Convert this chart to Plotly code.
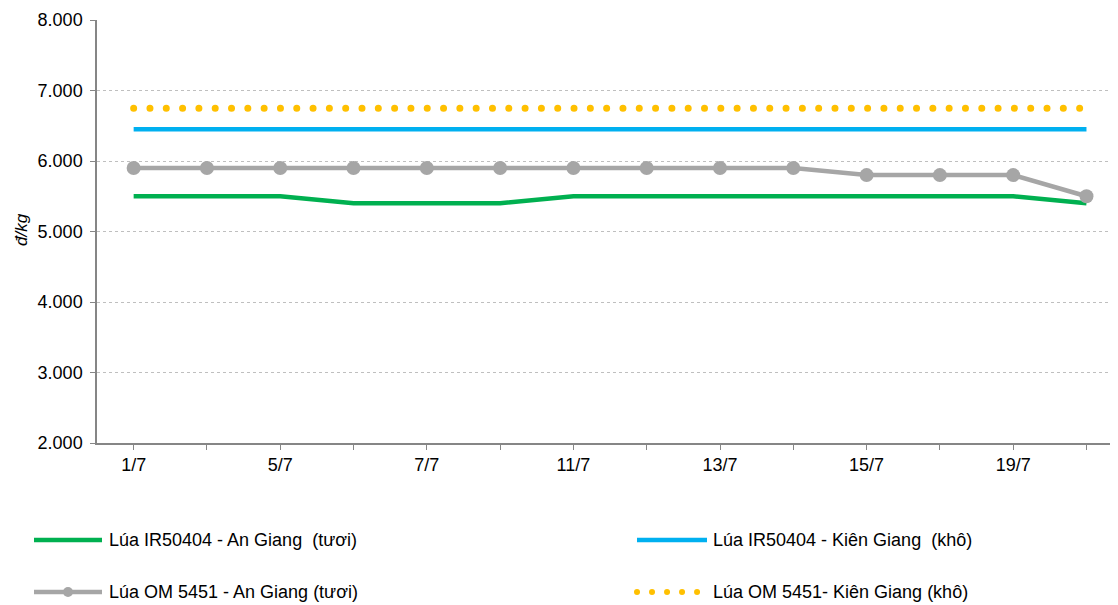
import plotly.graph_objects as go

# dates (only every second one is labelled on the axis)
dates = ["1/7", "4/7", "5/7", "6/7", "7/7", "8/7", "11/7", "12/7",
         "13/7", "14/7", "15/7", "18/7", "19/7", "20/7"]

ir_an_giang = [5500, 5500, 5500, 5400, 5400, 5400, 5500, 5500,
               5500, 5500, 5500, 5500, 5500, 5400]
ir_kien_giang = [6450] * 14
om_an_giang = [5900, 5900, 5900, 5900, 5900, 5900, 5900, 5900,
               5900, 5900, 5800, 5800, 5800, 5500]
om_kien_giang = [6750] * 14

names = ["Lúa IR50404 - An Giang  (tươi)",
         "Lúa IR50404 - Kiên Giang  (khô)",
         "Lúa OM 5451 - An Giang (tươi)",
         "Lúa OM 5451- Kiên Giang (khô)"]

GREEN = "#00b050"
BLUE = "#00b0f0"
GREY = "#a6a6a6"
YELLOW = "#ffc000"

OFF = 8  # the page body has an 8px margin
W, H = 1118 - OFF, 605 - OFF
L, T, B = 97 - OFF, 20 - OFF, 443 - OFF  # plot area in pixels


def px(x):
    return (x - OFF - L) / (W - L)


def py(y):
    return (B - (y - OFF)) / (B - T)


x = list(range(len(dates)))

fig = go.Figure()
fig.add_trace(go.Scatter(x=x, y=om_kien_giang, mode="lines",
                         line=dict(color=YELLOW, width=7, dash="7px,9.3px")))
fig.add_trace(go.Scatter(x=x, y=ir_kien_giang, mode="lines",
                         line=dict(color=BLUE, width=4.5)))
fig.add_trace(go.Scatter(x=x, y=ir_an_giang, mode="lines",
                         line=dict(color=GREEN, width=4.5)))
fig.add_trace(go.Scatter(x=x, y=om_an_giang, mode="lines+markers",
                         line=dict(color=GREY, width=4.5),
                         marker=dict(color=GREY, size=14)))

# hand-made legend below the plot
shapes = []
annotations = []
legend_items = [
    (34, 102, 540, GREEN, None, names[0], 107),
    (637, 707, 540, BLUE, None, names[1], 711),
    (34, 102, 592, GREY, "marker", names[2], 107),
    (637, 700, 592, YELLOW, "dot", names[3], 711),
]
for x0, x1, yy, col, kind, label, tx in legend_items:
    if kind == "dot":
        shapes.append(dict(type="line", xref="paper", yref="paper",
                           x0=px(x0), x1=px(x1), y0=py(yy), y1=py(yy),
                           line=dict(color=YELLOW, width=6, dash="6px,9px")))
    else:
        shapes.append(dict(type="line", xref="paper", yref="paper",
                           x0=px(x0), x1=px(x1), y0=py(yy), y1=py(yy),
                           line=dict(color=col, width=4.5)))
    if kind == "marker":
        shapes.append(dict(type="circle", xref="paper", yref="paper",
                           x0=px(63), x1=px(73), y0=py(597), y1=py(587),
                           fillcolor=GREY, line=dict(color=GREY, width=0)))
    annotations.append(dict(xref="paper", yref="paper", x=px(tx), y=py(yy),
                            xanchor="left", yanchor="middle", showarrow=False,
                            text=label, font=dict(size=18, color="#000000")))

annotations.append(dict(xref="paper", yref="paper", x=px(21), y=py(230),
                        xanchor="center", yanchor="middle", showarrow=False,
                        textangle=-90, text="<i>đ/kg</i>",
                        font=dict(size=17, color="#000000")))

fig.update_layout(
    width=W, height=H,
    margin=dict(l=L, r=0, t=T, b=H - B),
    paper_bgcolor="white", plot_bgcolor="white",
    showlegend=False,
    font=dict(family="Liberation Sans, Arial", size=18, color="#000000"),
    shapes=shapes, annotations=annotations,
    xaxis=dict(
        range=[-0.5, 13.43],
        tickmode="array", tickvals=x,
        ticktext=[d if i % 2 == 0 else "" for i, d in enumerate(dates)],
        tickson="boundaries", ticks="outside", ticklen=5,
        tickcolor="#868686", showline=True, linecolor="#868686",
        linewidth=1.5, showgrid=False, zeroline=False,
        tickfont=dict(size=18),
    ),
    yaxis=dict(
        range=[2000, 8000], dtick=1000, tickformat=",.0f",
        ticks="outside", ticklen=5, tickcolor="#868686",
        showline=True, linecolor="#868686", linewidth=1.5,
        showgrid=True, gridcolor="#bfbfbf", griddash="dot", gridwidth=1,
        zeroline=False, tickfont=dict(size=18), ticklabelstandoff=4,
    ),
    separators=",.",
)

# round the yellow dots like the original
post = """
document.querySelectorAll('path').forEach(function (p) {
  var s = p.style.stroke || '';
  if (s.replace(/ /g, '') === 'rgb(255,192,0)') {
    p.style.strokeLinecap = 'round';
    var w = parseFloat(p.style.strokeWidth);
    p.style.strokeDasharray = (w > 6.5) ? '0.01px,16.3px' : '0.01px,15px';
  }
});
"""

fig.write_html("out.html", post_script=post)
